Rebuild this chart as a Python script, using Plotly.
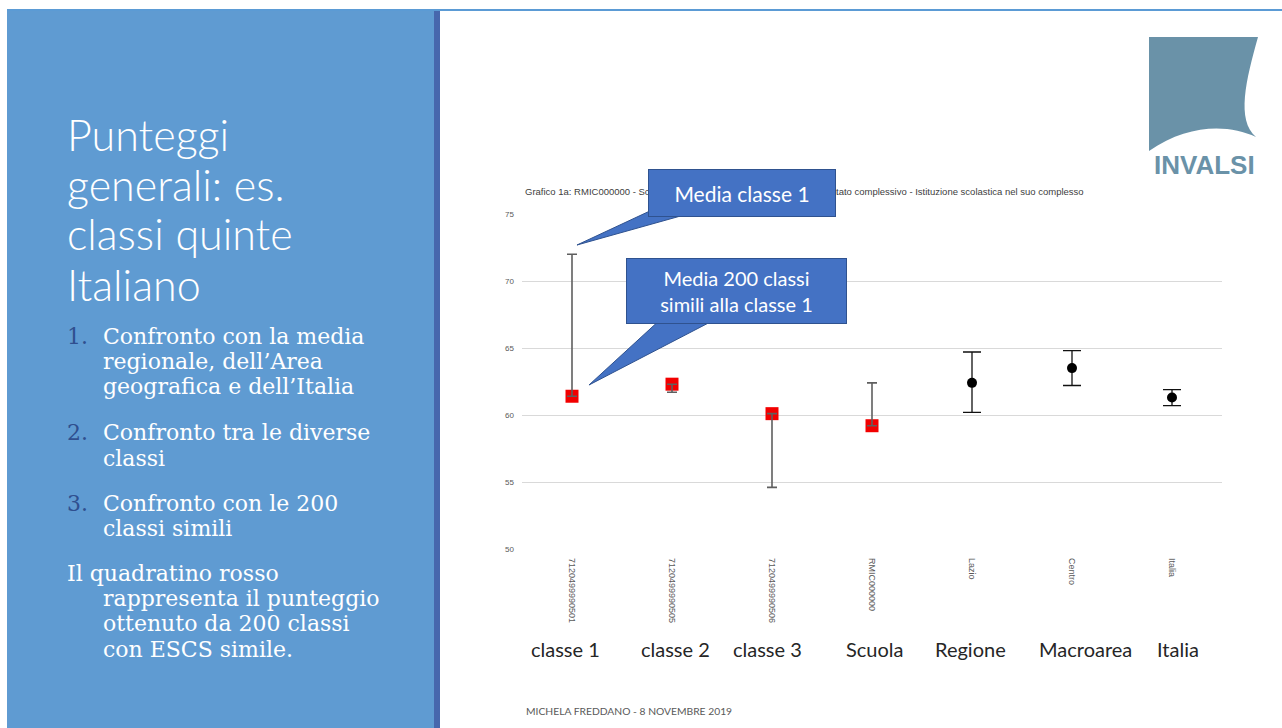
import plotly.graph_objects as go

# ---------------- data ----------------
categories = ["7120499990501", "7120499990505", "7120499990506", "RMIC000000", "Lazio", "Centro", "Italia"]
group_labels = ["classe 1", "classe 2", "classe 3", "Scuola", "Regione", "Macroarea", "Italia"]
class_cats = categories[:4]
class_mean = [72.0, 61.7, 54.6, 62.4]      # media della classe / scuola
similar_mean = [61.4, 62.3, 60.1, 59.2]    # media 200 classi simili (quadratino rosso)
ref_cats = categories[4:]
ref_mean = [62.4, 63.5, 61.3]
ref_low = [60.2, 62.2, 60.7]
ref_high = [64.7, 64.8, 61.9]
y_ticks = [50, 55, 60, 65, 70, 75]

chart_title = ("Grafico 1a: RMIC000000 - Scuola primaria - Classi quinte - Italiano - "
               "Risultato complessivo - Istituzione scolastica nel suo complesso")
slide_title = ["Punteggi", "generali: es.", "classi quinte", "Italiano"]
list_items = [
    ("1.", ["Confronto con la media", "regionale, dell\u2019Area", "geografica e dell\u2019Italia"]),
    ("2.", ["Confronto tra le diverse", "classi"]),
    ("3.", ["Confronto con le 200", "classi simili"]),
]
note_lines = ["Il quadratino rosso", "rappresenta il punteggio", "ottenuto da 200 classi", "con ESCS simile."]
footer = "MICHELA FREDDANO - 8 NOVEMBRE 2019"

# ---------------- layout helpers (pixel -> paper) ----------------
W, H = 1282, 728
L, R, T, B = 522, 1222, 214, 549


def px(x):
    return (x - L) / (R - L)


def py(y):
    return (B - y) / (B - T)


def path(points):
    s = "M " + " L ".join(f"{px(x):.5f},{py(y):.5f}" for x, y in points) + " Z"
    return s


fig = go.Figure()

# red squares: similar classes
fig.add_trace(go.Scatter(
    x=class_cats, y=similar_mean, mode="markers",
    marker=dict(symbol="square", size=13, color="#f20000", line=dict(width=0)),
    showlegend=False, hoverinfo="skip"))

# class range bars (from class mean to similar mean)
plus = [max(s - c, 0) for c, s in zip(class_mean, similar_mean)]
minus = [max(c - s, 0) for c, s in zip(class_mean, similar_mean)]
fig.add_trace(go.Scatter(
    x=class_cats, y=class_mean, mode="markers",
    marker=dict(size=2, color="rgba(0,0,0,0)"),
    error_y=dict(type="data", symmetric=False, array=plus, arrayminus=minus,
                 color="#5f5f5f", thickness=1.6, width=5),
    showlegend=False, hoverinfo="skip"))

# reference means with intervals
fig.add_trace(go.Scatter(
    x=ref_cats, y=ref_mean, mode="markers",
    marker=dict(symbol="circle", size=10, color="#000000"),
    error_y=dict(type="data", symmetric=False,
                 array=[h - m for h, m in zip(ref_high, ref_mean)],
                 arrayminus=[m - l for m, l in zip(ref_mean, ref_low)],
                 color="#111111", thickness=1.3, width=9),
    showlegend=False, hoverinfo="skip"))

shapes = []
# top thin line
shapes.append(dict(type="line", xref="paper", yref="paper", x0=px(7), x1=px(1282), y0=py(10), y1=py(10),
                   line=dict(color="#5B9BD5", width=2)))
# left panel
shapes.append(dict(type="rect", xref="paper", yref="paper", x0=px(7), x1=px(434), y0=py(11), y1=py(728),
                   fillcolor="#5F9BD2", line=dict(width=0)))
shapes.append(dict(type="rect", xref="paper", yref="paper", x0=px(434), x1=px(440), y0=py(11), y1=py(728),
                   fillcolor="#4767AD", line=dict(width=0)))
# logo
logo_pts = (f"M {px(1149):.5f},{py(37):.5f} L {px(1258):.5f},{py(37):.5f} "
            f"C {px(1246):.5f},{py(80):.5f} {px(1236):.5f},{py(120):.5f} {px(1256):.5f},{py(137):.5f} "
            f"C {px(1228):.5f},{py(124):.5f} {px(1188):.5f},{py(124):.5f} {px(1149):.5f},{py(151):.5f} Z")
shapes.append(dict(type="path", xref="paper", yref="paper", path=logo_pts,
                   fillcolor="#6A92A8", line=dict(width=0)))
# callout tails
shapes.append(dict(type="path", xref="paper", yref="paper",
                   path=path([(652, 210), (577, 245), (702, 210)]),
                   fillcolor="#4472C4", line=dict(color="#2F528F", width=1)))
shapes.append(dict(type="path", xref="paper", yref="paper",
                   path=path([(662, 318), (589, 385), (718, 318)]),
                   fillcolor="#4472C4", line=dict(color="#2F528F", width=1)))

ann = []
# chart title (small) - partly covered by the callout, as in the original slide
ann.append(dict(xref="paper", yref="paper", x=px(523), y=py(191), xanchor="left", yanchor="middle",
                text=chart_title, showarrow=False,
                font=dict(family="Liberation Sans, Arial", size=9.5, color="#404040")))
# callout boxes (drawn after the title so they cover it)
ann.append(dict(xref="paper", yref="paper", x=px(742), y=py(193), xanchor="center", yanchor="middle",
                text="Media classe 1", showarrow=False, width=186, height=46,
                bgcolor="#4472C4", bordercolor="#2F528F", borderwidth=1, borderpad=0,
                font=dict(family="Lato, Open Sans", size=21, color="white")))
ann.append(dict(xref="paper", yref="paper", x=px(736.5), y=py(291), xanchor="center", yanchor="middle",
                text="Media 200 classi<br>simili alla classe 1", showarrow=False, width=219, height=64,
                bgcolor="#4472C4", bordercolor="#2F528F", borderwidth=1, borderpad=0,
                font=dict(family="Lato, Open Sans", size=20, color="white")))

# group labels under axis (positioned at the category centres)
n = len(categories)
offsets = [-7, 3, -5, 3, -2, 13, 6]
for i, (lab, off) in enumerate(zip(group_labels, offsets)):
    ann.append(dict(xref="paper", yref="paper", x=(i + 0.5) / n, y=py(649), xanchor="center",
                    yanchor="middle", xshift=off, text=lab, showarrow=False,
                    font=dict(family="Lato, Open Sans", size=20, color="#262626")))

# slide title
for line, yc in zip(slide_title, [135, 184, 234, 284]):
    ann.append(dict(xref="paper", yref="paper", x=px(65), y=py(yc), xanchor="left", yanchor="middle",
                    text=line, showarrow=False,
                    font=dict(family="Lato", size=43, color="white", weight=300)))

# numbered list
list_y = [[336, 361, 386], [432, 458], [503, 528]]
for (num, lines), ys in zip(list_items, list_y):
    ann.append(dict(xref="paper", yref="paper", x=px(65), y=py(ys[0]), xanchor="left", yanchor="middle",
                    text=num, showarrow=False,
                    font=dict(family="DejaVu Serif", size=22, color="#2F4F8F")))
    for line, yc in zip(lines, ys):
        ann.append(dict(xref="paper", yref="paper", x=px(101), y=py(yc), xanchor="left", yanchor="middle",
                        text=line, showarrow=False,
                        font=dict(family="DejaVu Serif", size=22, color="white")))
for i, (line, yc) in enumerate(zip(note_lines, [573, 598, 623, 649])):
    ann.append(dict(xref="paper", yref="paper", x=px(65 if i == 0 else 101), y=py(yc),
                    xanchor="left", yanchor="middle", text=line, showarrow=False,
                    font=dict(family="DejaVu Serif", size=22, color="white")))

# logo text
ann.append(dict(xref="paper", yref="paper", x=px(1204), y=py(165), xanchor="center", yanchor="middle",
                text="<b>INVALSI</b>", showarrow=False,
                font=dict(family="Liberation Sans, Arial", size=26, color="#6A92A8")))
# footer
ann.append(dict(xref="paper", yref="paper", x=px(524), y=py(711), xanchor="left", yanchor="middle",
                text=footer, showarrow=False,
                font=dict(family="Lato", size=10.3, color="#595959")))

fig.update_layout(
    width=W, height=H,
    margin=dict(l=L, r=W - R, t=T, b=H - B, pad=0),
    paper_bgcolor="white", plot_bgcolor="white",
    showlegend=False,
    shapes=shapes, annotations=ann,
    xaxis=dict(type="category", categoryorder="array", categoryarray=categories,
               range=[-0.5, len(categories) - 0.5], showgrid=False, zeroline=False, showline=False,
               ticks="", tickangle=90, ticklabelstandoff=8,
               tickfont=dict(family="Liberation Sans, Arial", size=9, color="#595959")),
    yaxis=dict(range=[50, 75], tickvals=y_ticks, showgrid=True, gridcolor="#d9d9d9", gridwidth=1,
               zeroline=False, showline=False, ticks="", ticklabelstandoff=7,
               tickfont=dict(family="Liberation Sans, Arial", size=8, color="#595959")),
)

fig.write_html("out.html")
